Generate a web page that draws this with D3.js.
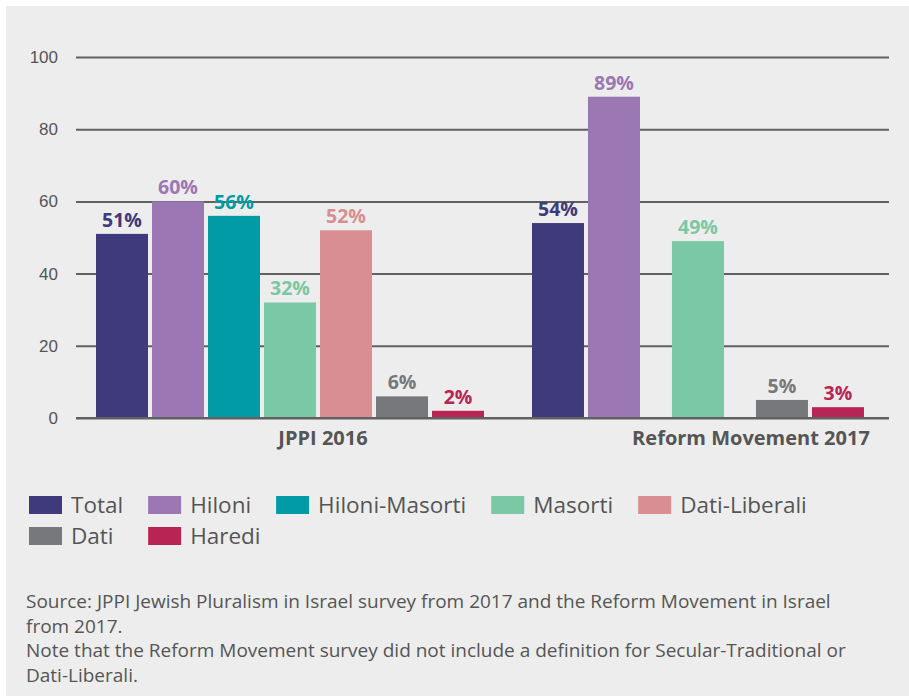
<!DOCTYPE html>
<html>
<head>
<meta charset="utf-8">
<script src="https://cdn.jsdelivr.net/npm/d3@7"></script>
<style>
  html, body { margin: 0; padding: 0; background: #fff; }
  svg { display: block; font-family: "Open Sans", sans-serif; }
</style>
</head>
<body>
<div id="container"></div>
<script>
const groups = ["JPPI 2016", "Reform Movement 2017"];
const series = ["Total", "Hiloni", "Hiloni-Masorti", "Masorti", "Dati-Liberali", "Dati", "Haredi"];
const jppi2016 = [51, 60, 56, 32, 52, 6, 2];
const reform2017 = [54, 89, null, 49, null, 5, 3];
const yTicks = [0, 20, 40, 60, 80, 100];
const colors = ["#3e3a7b", "#9b77b4", "#009ba5", "#7bc8a5", "#d88e93", "#77787b", "#b82555"];
const notes = [
  "Source: JPPI Jewish Pluralism in Israel survey from 2017 and the Reform Movement in Israel",
  "from 2017.",
  "Note that the Reform Movement survey did not include a definition for Secular-Traditional or",
  "Dati-Liberali."
];

const width = 909;
const height = 696;
const textGray = "#555";

// slot of each bar inside its group (the reform survey skips two categories,
// so its bars close up and Masorti sits centred across the gap)
const slots = {
  "JPPI 2016": [0, 1, 2, 3, 4, 5, 6],
  "Reform Movement 2017": [0, 1, null, 2.5, null, 4, 5]
};

const rows = groups.map((g, gi) => ({
  group: g,
  values: series.map((s, si) => ({ series: s, value: [jppi2016, reform2017][gi][si], slot: slots[g][si] }))
}));

const svg = d3.select("#container")
              .append("svg")
              .attr("width", width)
              .attr("height", height);

svg.append("rect")
   .attr("x", 6)
   .attr("y", 6)
   .attr("width", width - 6)
   .attr("height", height - 6)
   .attr("fill", "#ededed");

const yScale = d3.scaleLinear()
                 .domain([0, 100])
                 .range([418, 57]);

const xGroup = d3.scaleBand()
                 .domain(groups)
                 .range([96, 920])
                 .paddingInner(0.11);

const barW = 52;
const xSlot = d3.scaleLinear()
                .domain([0, 1])
                .range([0, 56]);

const color = d3.scaleOrdinal().domain(series).range(colors);

// gridlines + tick labels
const yAxis = d3.axisLeft(yScale)
                .tickValues(yTicks)
                .tickSize(-813)
                .tickPadding(18);
const gy = svg.append("g")
              .attr("transform", "translate(76, 0)")
              .call(yAxis);
gy.select(".domain").remove();
gy.selectAll(".tick line")
  .attr("stroke", "#616161")
  .attr("stroke-width", 2);
gy.selectAll(".tick text")
  .attr("fill", textGray)
  .style("font-size", "17px")
  .attr("dy", "0.32em");

const gGroups = svg.selectAll(".grp")
                   .data(rows)
                   .enter()
                   .append("g")
                   .attr("class", "grp")
                   .attr("transform", (d) => "translate(" + xGroup(d.group) + ",0)");

const bars = gGroups.selectAll(".bar")
                    .data((d) => d.values.filter((v) => v.value != null))
                    .enter();

bars.append("rect")
    .attr("class", "bar")
    .attr("x", (d) => xSlot(d.slot))
    .attr("y", (d) => yScale(d.value))
    .attr("width", barW)
    .attr("height", (d) => yScale(0) - yScale(d.value))
    .attr("fill", (d) => color(d.series));

bars.append("text")
    .attr("x", (d) => xSlot(d.slot) + barW / 2)
    .attr("y", (d) => yScale(d.value) - 7)
    .attr("text-anchor", "middle")
    .attr("fill", (d) => color(d.series))
    .style("font-size", "19.5px")
    .style("font-weight", "bold")
    .text((d) => d.value + "%");

// baseline redrawn over bars
svg.append("line")
   .attr("x1", 76)
   .attr("x2", 889)
   .attr("y1", yScale(0))
   .attr("y2", yScale(0))
   .attr("stroke", "#616161")
   .attr("stroke-width", 2);

gGroups.append("text")
       .attr("x", (d, i) => i === 0 ? 227 : 219)
       .attr("y", 445)
       .attr("text-anchor", "middle")
       .attr("fill", textGray)
       .style("font-size", "20px")
       .style("font-weight", "bold")
       .text((d) => d.group);

// legend: first row flows, second row reuses first-row columns
const legend = svg.append("g").attr("class", "legend");
const perRow = 5;
const colX = [];
let cx = 29;
series.forEach((s, i) => {
  const row = Math.floor(i / perRow);
  const col = i % perRow;
  const x = row === 0 ? cx : colX[col];
  const y = 496 + row * 31;
  const item = legend.append("g").attr("transform", "translate(" + x + "," + y + ")");
  item.append("rect")
      .attr("width", 33)
      .attr("height", 18)
      .attr("fill", color(s));
  const t = item.append("text")
                .attr("x", 42)
                .attr("y", 17)
                .attr("fill", textGray)
                .style("font-size", "22.5px")
                .text(s);
  if (row === 0) {
    colX.push(x);
    cx = x + 42 + t.node().getComputedTextLength() + 25;
  }
});

svg.append("g")
   .selectAll("text")
   .data(notes)
   .enter()
   .append("text")
   .attr("x", 26)
   .attr("y", (d, i) => 608 + i * 24.6)
   .attr("fill", textGray)
   .style("font-size", "19px")
   .text((d) => d);
</script>
</body>
</html>
